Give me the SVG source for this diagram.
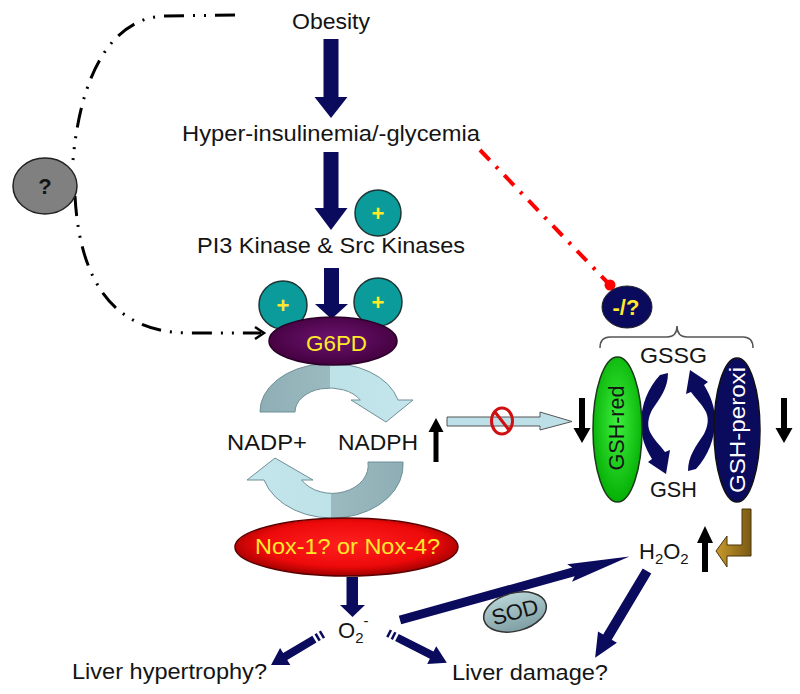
<svg xmlns="http://www.w3.org/2000/svg" width="800" height="694" viewBox="0 0 800 694">
<defs>
<style>
.t{font-family:"Liberation Sans",Arial,sans-serif;font-size:22px;fill:#141414}
.y{fill:#ffe92a}
.b{font-weight:bold}
.nv{fill:#0b0b5e}
.blk{fill:#000}
.tc{fill:#0c9b9b;stroke:#1d3535;stroke-width:1.5}
</style>
<linearGradient id="gTop" gradientUnits="userSpaceOnUse" x1="258" y1="0" x2="414" y2="0">
<stop offset="0" stop-color="#8eaeb5"/><stop offset="0.46" stop-color="#9bbac0"/><stop offset="0.46" stop-color="#bde2e8"/><stop offset="1" stop-color="#c4e6ec"/>
</linearGradient>
<linearGradient id="gBot" gradientUnits="userSpaceOnUse" x1="245" y1="0" x2="405" y2="0">
<stop offset="0" stop-color="#c4e6ec"/><stop offset="0.54" stop-color="#bde2e8"/><stop offset="0.54" stop-color="#9bbac0"/><stop offset="1" stop-color="#8eaeb5"/>
</linearGradient>
<radialGradient id="gNox" cx="0.5" cy="0.45" r="0.55">
<stop offset="0" stop-color="#ff2020"/><stop offset="0.7" stop-color="#ee0a0a"/><stop offset="1" stop-color="#a00000"/>
</radialGradient>
<radialGradient id="gG6" cx="0.5" cy="0.45" r="0.55">
<stop offset="0" stop-color="#6c1470"/><stop offset="1" stop-color="#44003f"/>
</radialGradient>
<radialGradient id="gRed" cx="0.5" cy="0.45" r="0.6">
<stop offset="0" stop-color="#3ef03e"/><stop offset="1" stop-color="#00aa00"/>
</radialGradient>
<linearGradient id="gSod" x1="0" y1="0" x2="0" y2="1">
<stop offset="0" stop-color="#b7d3d6"/><stop offset="1" stop-color="#7f9fa4"/>
</linearGradient>
<linearGradient id="gBr" x1="0" y1="0" x2="1" y2="0">
<stop offset="0" stop-color="#c89a2c"/><stop offset="1" stop-color="#7a5a14"/>
</linearGradient>
</defs>

<g id="connectors">
  <path d="M235,15 L165,16 C120,17 82,60 73,160" fill="none" stroke="#000" stroke-width="3" stroke-dasharray="20 9 2 9 2 9"/>
  <path d="M75,196 C80,290 120,333 190,333 L261,333" fill="none" stroke="#000" stroke-width="3" stroke-dasharray="20 9 2 9 2 9"/>
  <path d="M255,327 L264,333 L255,339" fill="none" stroke="#000" stroke-width="2.5"/>
  <path d="M480,150 L607,282" fill="none" stroke="#ff0000" stroke-width="4" stroke-dasharray="14 9 3 9"/>
  <circle cx="610" cy="285" r="5.5" fill="#ff0000"/>
  <polygon class="nv" points="323.5,39 338.5,39 338.5,97 347.5,97 331,118 314.5,97 323.5,97"/>
  <polygon class="nv" points="323.5,152 338.5,152 338.5,208 347.5,208 331,230 314.5,208 323.5,208"/>
  <polygon class="nv" points="324,268 339,268 339,304 348,304 331.5,319 315,304 324,304"/>
  <polygon class="nv" points="346.5,577 358,577 358,605 365,605 352.5,617 340,605 346.5,605"/>
  <g transform="translate(323,634) rotate(149.2)" class="nv">
    <rect x="0" y="-4" width="2.5" height="8"/><rect x="5" y="-4" width="2.5" height="8"/>
    <polygon points="10,-4 44,-4 44,-10 60.5,0 44,10 44,4 10,4"/>
  </g>
  <g transform="translate(388,633) rotate(26.9)" class="nv">
    <rect x="0" y="-4" width="2.5" height="8"/><rect x="5" y="-4" width="2.5" height="8"/>
    <polygon points="10,-4 49,-4 49,-10 66,0 49,10 49,4 10,4"/>
  </g>
  <polygon class="nv" transform="translate(400,620) rotate(-15.5)" points="0,-4.5 180,-4.5 176,-9 238,0 176,9 180,4.5 0,4.5"/>
  <polygon class="nv" transform="translate(647,571) rotate(120.9)" points="0,-5 77,-5 77,-11 101,0 77,11 77,5 0,5"/>
  <path d="M260,412 A70,48 0 0,1 398,400 L413,400 L386,422 L351,400 L360.3,400 A35,24 0 0,0 295,412 Z" fill="url(#gTop)" stroke="#6f8f96" stroke-width="1"/>
  <path d="M403,462 A71,53 0 0,1 264,480 L247,480 L275,458 L313,480 L301.6,480 A36,28 0 0,0 368,462 Z" fill="url(#gBot)" stroke="#6f8f96" stroke-width="1"/>
  <polygon points="447,417 540,417 540,412 572,421.5 540,430 540,426 447,426" fill="#bde0e8" stroke="#555" stroke-width="1"/>
  <ellipse cx="502" cy="421" rx="10.5" ry="13" fill="none" stroke="#d01010" stroke-width="3"/>
  <line x1="495" y1="412" x2="509" y2="430" stroke="#d01010" stroke-width="3"/>
  <polygon class="blk" points="433.5,462 438.5,462 438.5,432 443.5,432 436,418 428.5,432 433.5,432"/>
  <polygon class="blk" points="702,572 708,572 708,543 713,543 705,526 697,543 702,543"/>
  <polygon class="blk" points="579,398 585,398 585,428 590.5,428 582,443 573.5,428 579,428"/>
  <polygon class="blk" points="781,398 787,398 787,428 792.5,428 784,443 775.5,428 781,428"/>
  <path class="nv" d="M660,375 L668,373 C668,388 660,398 652,410 C648,418 647,425 650,432 C654,440 660,445 665,452 L670,450 L666,474 L648,462 L652,459 C645,448 641,436 641,424 C641,405 648,388 660,375 Z"/>
  <path class="nv" d="M696,469 L688,471 C688,456 696,446 704,434 C708,426 709,419 706,412 C702,404 696,399 691,392 L686,394 L690,370 L708,382 L704,385 C711,396 715,408 715,420 C715,439 708,456 696,469 Z"/>
  <path d="M600,348 Q600,337 610,337 L667,337 Q677,337 677,326 Q677,337 687,337 L743,337 Q753,337 753,348" fill="none" stroke="#555" stroke-width="1.5"/>
  <path d="M742,509 L751,509 L751,556 L727,556 L727,567 L716,551 L727,536 L727,545 L742,545 Z" fill="url(#gBr)" stroke="#4a3508" stroke-width="1"/>
</g>

<g id="n-obesity"><text class="t" x="292" y="29" textLength="78" lengthAdjust="spacingAndGlyphs">Obesity</text></g>
<g id="n-hyper"><text class="t" x="182" y="141" textLength="298" lengthAdjust="spacingAndGlyphs">Hyper-insulinemia/-glycemia</text></g>
<g id="n-plus1"><circle class="tc" cx="378" cy="213" r="23"/><text class="t y b" x="378" y="221" text-anchor="middle">+</text></g>
<g id="n-pi3"><text class="t" x="197" y="253" textLength="268" lengthAdjust="spacingAndGlyphs">PI3 Kinase &amp; Src Kinases</text></g>
<g id="n-plus2"><circle class="tc" cx="283" cy="305" r="24"/><text class="t y b" x="283" y="313" text-anchor="middle">+</text></g>
<g id="n-plus3"><circle class="tc" cx="378" cy="302" r="24"/><text class="t y b" x="378" y="310" text-anchor="middle">+</text></g>
<g id="n-g6pd"><ellipse cx="333" cy="341" rx="64" ry="24" fill="url(#gG6)" stroke="#2a0028" stroke-width="1.5"/><text class="t y" x="306" y="351" textLength="61" lengthAdjust="spacingAndGlyphs">G6PD</text></g>
<g id="n-q"><ellipse cx="45" cy="186" rx="32" ry="28" fill="#808080" stroke="#222" stroke-width="1.5"/><text class="t b" x="45" y="194" text-anchor="middle">?</text></g>
<g id="n-inh"><ellipse cx="627" cy="307" rx="25" ry="21" fill="#0b0b5e" stroke="#222" stroke-width="1"/><text class="t y b" x="626" y="315" text-anchor="middle" font-size="20">-/?</text></g>
<g id="n-nadp"><text class="t" x="227" y="450" textLength="80" lengthAdjust="spacingAndGlyphs">NADP+</text></g>
<g id="n-nadph"><text class="t" x="338" y="450" textLength="80" lengthAdjust="spacingAndGlyphs">NADPH</text></g>
<g id="n-gssg"><text class="t" x="640" y="363" textLength="67" lengthAdjust="spacingAndGlyphs">GSSG</text></g>
<g id="n-gsh"><text class="t" x="650" y="497" textLength="47" lengthAdjust="spacingAndGlyphs">GSH</text></g>
<g id="n-gshred"><ellipse cx="617.5" cy="429.5" rx="24.5" ry="72.5" fill="url(#gRed)" stroke="#1a3a1a" stroke-width="1.5"/><text class="t" transform="translate(624,428) rotate(-90)" x="-42.5" y="0" textLength="85" lengthAdjust="spacingAndGlyphs">GSH-red</text></g>
<g id="n-gshperoxi"><ellipse cx="737" cy="430" rx="23" ry="72" fill="#0b0b5e" stroke="#111" stroke-width="1.5"/><text class="t" style="fill:#fff" transform="translate(745,430) rotate(-90)" x="-63" y="0" textLength="126" lengthAdjust="spacingAndGlyphs">GSH-peroxi</text></g>
<g id="n-nox"><ellipse cx="346.5" cy="547" rx="111.5" ry="29" fill="url(#gNox)" stroke="#5a0000" stroke-width="1.5"/><text class="t y" x="255" y="554" textLength="185" lengthAdjust="spacingAndGlyphs">Nox-1? or Nox-4?</text></g>
<g id="n-o2"><text class="t" x="338" y="638">O<tspan font-size="15" dy="5">2</tspan><tspan font-size="15" dy="-17">-</tspan></text></g>
<g id="n-h2o2"><text class="t" x="639" y="559">H<tspan font-size="15" dy="5">2</tspan><tspan dy="-5">O</tspan><tspan font-size="15" dy="5">2</tspan></text></g>
<g id="n-sod"><g transform="rotate(-15 515 612)"><ellipse cx="515" cy="612" rx="32" ry="19" fill="url(#gSod)" stroke="#333" stroke-width="1.5"/><text class="t" x="515" y="619.5" text-anchor="middle" font-size="21">SOD</text></g></g>
<g id="n-hyp"><text class="t" x="72" y="679" textLength="195" lengthAdjust="spacingAndGlyphs">Liver hypertrophy?</text></g>
<g id="n-dmg"><text class="t" x="452" y="680" textLength="156" lengthAdjust="spacingAndGlyphs">Liver damage?</text></g>
</svg>
